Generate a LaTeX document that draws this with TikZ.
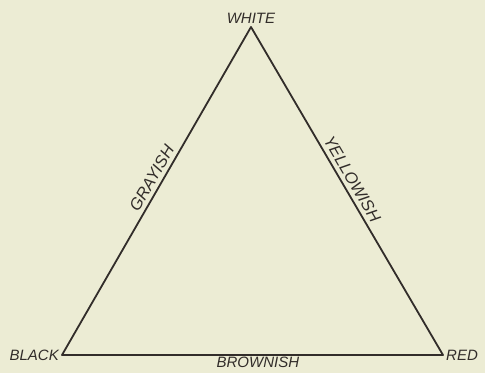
\documentclass[tikz,border=0pt]{standalone}
\usepackage{fontspec}
\setmainfont{Liberation Sans}

\definecolor{paper}{RGB}{236,236,212}
\definecolor{ink}{RGB}{50,45,42}

\begin{document}
\begin{tikzpicture}[x=1pt,y=-1pt,line cap=round,line join=round,
  every node/.style={inner sep=1pt,text=ink,font=\fontsize{15}{15}\selectfont\itshape},
  edgelabel/.style={sloped,inner sep=4.5pt,font=\fontsize{16.5}{16.5}\selectfont\itshape}]
  \def\lw{1.8pt}
  % paper
  \fill[paper] (0,0) rectangle (485,373);
  \useasboundingbox (0,0) rectangle (485,373);
  % corners
  \coordinate (white) at (251,27);
  \coordinate (black) at (62,355);
  \coordinate (red) at (443,355);
  \draw[ink,line width=\lw] (white) -- (red) -- (black) -- cycle;
  % corner names
  \node[above=2.5pt] (whitelbl) at (white) {WHITE};
  \node[left=2pt] (blacklbl) at (black) {BLACK};
  \node[right=2pt] (redlbl) at (red) {RED};
  % edge names
  \path (black) -- node[edgelabel,above,pos=0.523] (grayish) {GRAYISH} (white);
  \path (white) -- node[edgelabel,above,pos=0.48] (yellowish) {YELLOWISH} (red);
  \path (black) -- node[edgelabel,below,inner sep=2pt,font=\fontsize{15}{15}\selectfont\itshape,pos=0.514] (brownish) {BROWNISH} (red);
\end{tikzpicture}
\end{document}
